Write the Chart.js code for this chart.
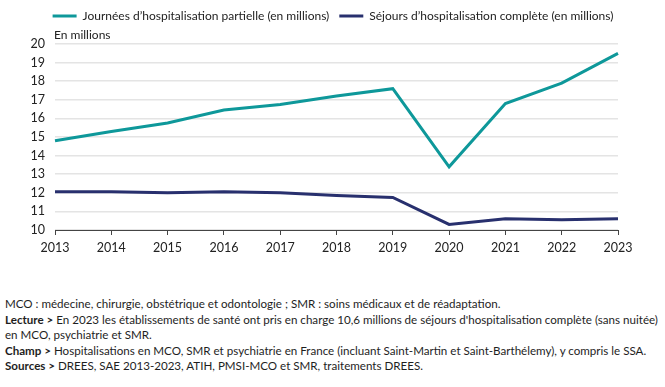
<!DOCTYPE html>
<html>
<head>
<meta charset="utf-8">
<script src="https://cdn.jsdelivr.net/npm/chart.js@4"></script>
<style>
  body { margin: 0; background: #fff; width: 665px; height: 387px; overflow: hidden; position: relative; }
  #wrap { position: absolute; left: 0; top: 0; width: 665px; height: 265px; }
  #notes { position: absolute; left: 5px; top: 296px; width: 660px; font-family: Lato, sans-serif; font-size: 11.6px; line-height: 15.5px; color: #1e1e1e; white-space: nowrap; }
  #notes b { font-weight: bold; }
</style>
</head>
<body>
<div id="wrap"><canvas id="chart"></canvas></div>
<div id="notes">
  <div>MCO : médecine, chirurgie, obstétrique et odontologie ; SMR : soins médicaux et de réadaptation.</div>
  <div><b>Lecture &gt;</b> En 2023 les établissements de santé ont pris en charge 10,6 millions de séjours d'hospitalisation complète (sans nuitée)</div>
  <div>en MCO, psychiatrie et SMR.</div>
  <div><b>Champ &gt;</b> Hospitalisations en MCO, SMR et psychiatrie en France (incluant Saint-Martin et Saint-Barthélemy), y compris le SSA.</div>
  <div><b>Sources &gt;</b> DREES, SAE 2013-2023, ATIH, PMSI-MCO et SMR, traitements DREES.</div>
</div>
<script>
  // data
  const years = ["2013", "2014", "2015", "2016", "2017", "2018", "2019", "2020", "2021", "2022", "2023"];
  const partielle = [14.8, 15.3, 15.75, 16.45, 16.75, 17.2, 17.6, 13.4, 16.8, 17.9, 19.5];
  const complete = [12.05, 12.05, 12.0, 12.05, 12.0, 11.86, 11.75, 10.3, 10.6, 10.55, 10.6];
  const yTicks = [10, 11, 12, 13, 14, 15, 16, 17, 18, 19, 20];

  const font = "Lato, sans-serif";
  Chart.defaults.font.family = font;
  Chart.defaults.color = "#222";

  // extra room under the legend for "En millions", legend centred on the page
  const legendGap = {
    id: "legendGap",
    beforeInit(chart) {
      const fit = chart.legend.fit;
      chart.legend.fit = function () {
        fit.call(this);
        this.height += 12;
      };
    },
    afterLayout(chart) {
      chart.legend.left += 24;
      chart.legend.right += 24;
    }
  };

  // "En millions" above the plot
  const unitLabel = {
    id: "unitLabel",
    afterDraw(chart) {
      const { ctx, chartArea } = chart;
      ctx.save();
      ctx.font = "12px " + font;
      ctx.fillStyle = "#222";
      ctx.textBaseline = "middle";
      ctx.fillText("En millions", chartArea.left - 1, 35);
      ctx.restore();
    }
  };

  new Chart(document.getElementById("chart"), {
    type: "line",
    data: {
      labels: years,
      datasets: [
        {
          label: "Journées d\u2019hospitalisation partielle (en millions)",
          data: partielle,
          borderColor: "#0e989a",
          backgroundColor: "#0e989a",
          borderWidth: 3,
          pointRadius: 0,
          tension: 0
        },
        {
          label: "Séjours d\u2019hospitalisation complète (en millions)",
          data: complete,
          borderColor: "#28306e",
          backgroundColor: "#28306e",
          borderWidth: 3,
          pointRadius: 0,
          tension: 0
        }
      ]
    },
    options: {
      responsive: true,
      maintainAspectRatio: false,
      animation: false,
      layout: { padding: { top: 0, left: 0, right: 47, bottom: 5 } },
      plugins: {
        legend: {
          position: "top",
          labels: {
            usePointStyle: true,
            pointStyle: "line",
            pointStyleWidth: 24,
            padding: 10,
            font: { size: 12 },
            color: "#222"
          }
        },
        tooltip: { enabled: false }
      },
      scales: {
        x: {
          offset: false,
          grid: { drawOnChartArea: false, drawTicks: true, tickLength: 5, color: "#444" },
          border: { color: "#444", width: 1 },
          ticks: { padding: 5, font: { size: 12.5 }, maxRotation: 0, autoSkip: false }
        },
        y: {
          min: 10,
          max: 20,
          afterFit: (s) => { s.width = 55; },
          afterBuildTicks: (s) => { s.ticks = yTicks.map((v) => ({ value: v })); },
          grid: { color: "#e4e4e4", lineWidth: 1.5, drawTicks: false },
          border: { display: false },
          ticks: { padding: 10, font: { size: 12.5 }, autoSkip: false }
        }
      }
    },
    plugins: [legendGap, unitLabel]
  });
</script>
</body>
</html>
